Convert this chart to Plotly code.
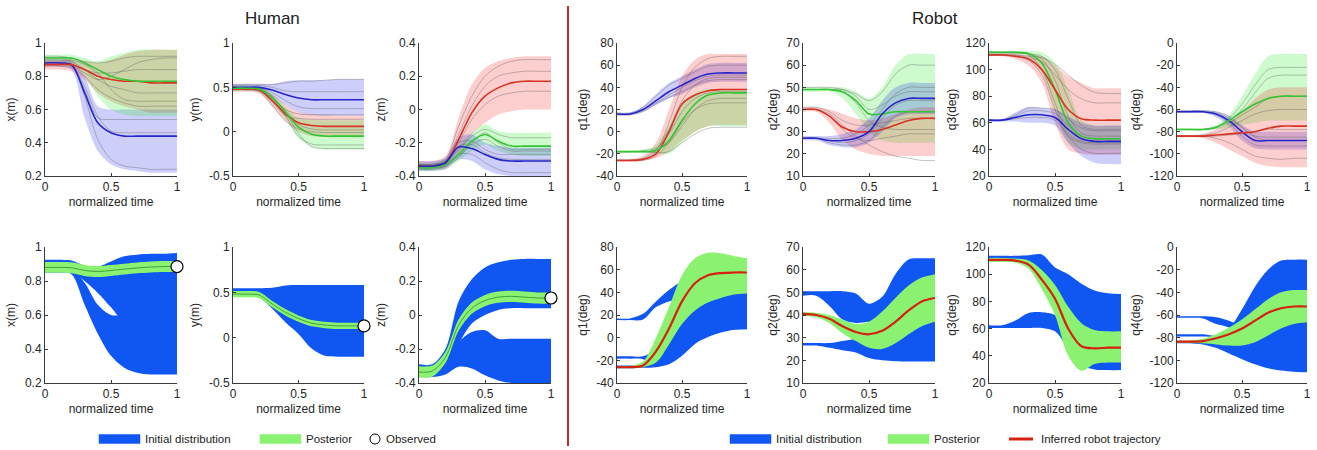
import plotly.graph_objects as go

W, H = 1317, 450
T = [0, 0.1, 0.2, 0.3, 0.4, 0.5, 0.6, 0.7, 0.8, 0.9, 1.0]

# ---------------- TOP ROW: clusters (mean, upper, lower, samples) ----------------
# Human x
hx_b_mean = [.88, .88, .87, .70, .52, .46, .44, .44, .44, .44, .44]
hx_b_up = [.90, .90, .90, .80, .62, .60, .60, .60, .60, .60, .60]
hx_b_lo = [.86, .86, .84, .55, .35, .27, .24, .23, .22, .22, .22]
hx_b_s1 = [.88, .88, .87, .72, .55, .54, .54, .54, .54, .54, .54]
hx_b_s2 = [.89, .89, .88, .68, .42, .30, .26, .25, .24, .24, .24]
hx_b_s3 = [.87, .87, .86, .74, .56, .47, .46, .46, .46, .46, .46]
hx_r_mean = [.87, .87, .87, .84, .80, .78, .77, .77, .76, .76, .76]
hx_r_up = [.90, .90, .90, .89, .88, .90, .93, .95, .96, .96, .96]
hx_r_lo = [.84, .84, .83, .78, .70, .65, .62, .60, .58, .58, .58]
hx_r_s1 = [.87, .87, .86, .82, .78, .80, .84, .88, .90, .91, .91]
hx_r_s2 = [.86, .86, .85, .80, .72, .67, .64, .62, .62, .62, .62]
hx_r_s3 = [.88, .88, .87, .84, .82, .82, .83, .84, .84, .84, .84]
hx_g_mean = [.91, .91, .91, .88, .84, .80, .78, .77, .77, .77, .77]
hx_g_up = [.93, .93, .93, .91, .89, .92, .94, .96, .96, .96, .96]
hx_g_lo = [.89, .89, .88, .80, .68, .60, .57, .56, .56, .56, .56]
hx_g_s1 = [.91, .91, .90, .87, .82, .72, .66, .65, .65, .65, .65]
hx_g_s2 = [.92, .92, .91, .89, .88, .89, .91, .92, .92, .92, .92]
hx_g_s3 = [.90, .90, .89, .84, .78, .74, .72, .70, .70, .70, .70]

# Human y
hy_b_mean = [.50, .50, .50, .47, .42, .38, .36, .36, .36, .36, .36]
hy_b_up = [.54, .54, .54, .54, .57, .58, .58, .58, .59, .59, .59]
hy_b_lo = [.47, .47, .46, .40, .30, .22, .19, .18, .18, .18, .18]
hy_b_s1 = [.52, .52, .52, .50, .46, .45, .45, .45, .45, .45, .45]
hy_b_s2 = [.50, .50, .49, .44, .35, .28, .26, .26, .26, .26, .26]
hy_b_s3 = [.53, .53, .53, .53, .55, .57, .57, .58, .59, .59, .59]
hy_r_mean = [.48, .48, .47, .35, .20, .10, .07, .06, .06, .06, .06]
hy_r_up = [.50, .50, .49, .42, .30, .22, .20, .19, .18, .18, .18]
hy_r_lo = [.45, .45, .43, .28, .12, .00, -.05, -.06, -.06, -.06, -.06]
hy_r_s1 = [.48, .48, .46, .33, .18, .15, .14, .14, .14, .14, .14]
hy_r_s2 = [.47, .47, .45, .30, .12, .03, .00, -.01, -.01, -.01, -.01]
hy_r_s3 = [.49, .49, .48, .38, .25, .20, .19, .19, .19, .19, .19]
hy_g_mean = [.49, .49, .48, .38, .22, .05, -.03, -.05, -.05, -.05, -.05]
hy_g_up = [.51, .51, .50, .42, .28, .15, .13, .13, .13, .13, .13]
hy_g_lo = [.46, .46, .45, .34, .15, -.08, -.17, -.20, -.20, -.20, -.20]
hy_g_s1 = [.49, .49, .48, .36, .18, -.05, -.14, -.15, -.15, -.15, -.15]
hy_g_s2 = [.48, .48, .47, .38, .24, .08, .03, .02, .02, .02, .02]
hy_g_s3 = [.50, .50, .49, .40, .22, -.02, -.17, -.19, -.19, -.19, -.19]

# Human z
hz_r_mean = [-.34, -.34, -.32, -.18, -.02, .08, .13, .16, .17, .17, .17]
hz_r_up = [-.31, -.31, -.28, -.05, .15, .25, .29, .31, .32, .32, .32]
hz_r_lo = [-.36, -.36, -.35, -.27, -.15, -.08, -.03, -.01, 0, 0, 0]
hz_r_s1 = [-.33, -.33, -.30, -.10, .08, .20, .26, .29, .30, .30, .30]
hz_r_s2 = [-.34, -.34, -.32, -.20, -.06, .03, .08, .10, .11, .11, .11]
hz_r_s3 = [-.34, -.34, -.31, -.15, .02, .14, .20, .22, .23, .23, .23]
hz_g_mean = [-.35, -.35, -.33, -.27, -.19, -.15, -.19, -.22, -.22, -.22, -.22]
hz_g_up = [-.32, -.32, -.30, -.22, -.14, -.09, -.13, -.14, -.14, -.14, -.14]
hz_g_lo = [-.37, -.37, -.36, -.31, -.25, -.21, -.25, -.27, -.28, -.28, -.28]
hz_g_s1 = [-.34, -.34, -.32, -.24, -.16, -.12, -.15, -.17, -.17, -.17, -.17]
hz_g_s2 = [-.35, -.35, -.33, -.28, -.21, -.18, -.22, -.25, -.25, -.25, -.25]
hz_g_s3 = [-.36, -.36, -.34, -.29, -.20, -.14, -.20, -.24, -.24, -.24, -.24]
hz_b_mean = [-.34, -.34, -.32, -.225, -.235, -.27, -.30, -.31, -.31, -.31, -.31]
hz_b_up = [-.31, -.31, -.29, -.17, -.15, -.20, -.22, -.23, -.23, -.23, -.23]
hz_b_lo = [-.37, -.37, -.36, -.30, -.31, -.36, -.39, -.40, -.40, -.40, -.40]
hz_b_s1 = [-.33, -.33, -.31, -.20, -.19, -.24, -.27, -.27, -.27, -.27, -.27]
hz_b_s2 = [-.35, -.35, -.34, -.27, -.27, -.32, -.36, -.38, -.38, -.38, -.38]
hz_b_s3 = [-.34, -.34, -.32, -.22, -.21, -.26, -.29, -.30, -.30, -.30, -.30]

# Robot q1
q1_b_mean = [16, 16, 20, 28, 36, 42, 48, 52, 53, 53, 53]
q1_b_up = [17, 17, 23, 34, 44, 50, 56, 61, 62, 62, 62]
q1_b_lo = [15, 15, 18, 24, 30, 34, 40, 44, 45, 45, 45]
q1_b_s1 = [16, 16, 19, 26, 33, 40, 46, 50, 51, 51, 51]
q1_b_s2 = [17, 17, 22, 32, 42, 48, 54, 59, 60, 60, 60]
q1_b_s3 = [15, 15, 18, 25, 31, 36, 42, 46, 47, 47, 47]
q1_r_mean = [-26, -26, -25, -20, 0, 25, 33, 37, 38, 38, 38]
q1_r_up = [-25, -25, -22, -10, 20, 50, 65, 70, 70, 70, 70]
q1_r_lo = [-27, -27, -26, -24, -18, -8, 0, 5, 6, 6, 6]
q1_r_s1 = [-26, -26, -25, -18, 8, 40, 58, 66, 68, 68, 68]
q1_r_s2 = [-26, -26, -26, -22, -10, 8, 20, 25, 26, 26, 26]
q1_r_s3 = [-25, -25, -24, -16, 2, 28, 42, 48, 49, 49, 49]
q1_g_mean = [-18, -18, -18, -17, -8, 10, 25, 33, 35, 35, 35]
q1_g_up = [-17, -17, -16, -12, 5, 25, 35, 38, 38, 38, 38]
q1_g_lo = [-19, -19, -19, -20, -20, -10, 0, 5, 5, 5, 5]
q1_g_s1 = [-18, -18, -18, -17, -10, 5, 20, 28, 30, 30, 30]
q1_g_s2 = [-18, -18, -18, -19, -18, -10, -2, 3, 4, 4, 4]
q1_g_s3 = [-18, -18, -17, -15, -2, 18, 30, 35, 36, 36, 36]

# Robot q2
q2_g_mean = [49, 49, 49, 48, 44, 38, 38, 39, 39, 39, 39]
q2_g_up = [50, 50, 50, 50, 48, 45, 50, 60, 65, 65, 65]
q2_g_lo = [48, 48, 48, 45, 38, 30, 26, 25, 25, 25, 25]
q2_g_s1 = [49, 49, 49, 49, 47, 44, 48, 56, 60, 60, 60]
q2_g_s2 = [49, 49, 49, 48, 43, 35, 32, 31, 31, 31, 31]
q2_g_s3 = [50, 50, 50, 49, 46, 40, 42, 46, 48, 48, 48]
q2_r_mean = [40, 40, 37, 32, 30, 30, 31, 33, 35, 36, 36]
q2_r_up = [41, 41, 40, 38, 36, 35, 36, 38, 40, 41, 41]
q2_r_lo = [39, 39, 34, 26, 22, 20, 19, 19, 19, 19, 19]
q2_r_s1 = [40, 40, 38, 33, 28, 24, 21, 19, 18, 17, 17]
q2_r_s2 = [40, 40, 37, 31, 27, 26, 27, 28, 29, 29, 29]
q2_r_s3 = [41, 41, 39, 35, 33, 33, 34, 35, 36, 36, 36]
q2_b_mean = [27, 27, 26, 26, 27, 30, 38, 43, 45, 45, 45]
q2_b_up = [28, 28, 28, 29, 31, 36, 44, 50, 52, 52, 52]
q2_b_lo = [26, 26, 24, 23, 23, 25, 30, 36, 38, 38, 38]
q2_b_s1 = [27, 27, 26, 25, 26, 29, 36, 42, 44, 44, 44]
q2_b_s2 = [27, 27, 27, 27, 29, 33, 40, 47, 50, 50, 50]
q2_b_s3 = [27, 27, 25, 24, 24, 26, 32, 37, 39, 39, 39]

# Robot q3
q3_g_mean = [113, 113, 113, 112, 105, 85, 60, 50, 48, 48, 48]
q3_g_up = [114, 114, 114, 114, 113, 105, 85, 62, 58, 58, 58]
q3_g_lo = [112, 112, 112, 110, 98, 70, 45, 40, 40, 40, 40]
q3_g_s1 = [113, 113, 113, 112, 108, 92, 65, 52, 50, 50, 50]
q3_g_s2 = [113, 113, 113, 111, 100, 75, 52, 46, 45, 45, 45]
q3_g_s3 = [112, 112, 112, 112, 110, 100, 78, 58, 55, 55, 55]
q3_r_mean = [111, 111, 110, 108, 100, 85, 70, 63, 62, 62, 62]
q3_r_up = [112, 112, 112, 111, 110, 103, 95, 90, 86, 86, 86]
q3_r_lo = [110, 110, 108, 103, 90, 60, 40, 37, 36, 36, 36]
q3_r_s1 = [111, 111, 111, 110, 109, 104, 96, 88, 83, 82, 82]
q3_r_s2 = [111, 111, 110, 107, 96, 70, 50, 45, 44, 44, 44]
q3_r_s3 = [111, 111, 111, 109, 106, 96, 85, 78, 75, 75, 75]
q3_b_mean = [62, 62, 64, 66, 66, 64, 55, 48, 46, 46, 46]
q3_b_up = [63, 63, 68, 72, 71, 70, 65, 60, 58, 58, 58]
q3_b_lo = [61, 61, 61, 60, 60, 58, 45, 35, 30, 29, 29]
q3_b_s1 = [62, 62, 65, 69, 69, 67, 58, 50, 48, 48, 48]
q3_b_s2 = [62, 62, 63, 64, 64, 62, 50, 40, 37, 37, 37]
q3_b_s3 = [62, 62, 66, 71, 71, 70, 63, 56, 54, 54, 54]

# Robot q4
q4_b_mean = [-62, -62, -62, -64, -70, -80, -88, -88, -88, -88, -88]
q4_b_up = [-61, -61, -61, -62, -66, -74, -80, -80, -80, -80, -80]
q4_b_lo = [-63, -63, -63, -67, -75, -88, -95, -96, -96, -96, -96]
q4_b_s1 = [-62, -62, -62, -63, -68, -76, -84, -85, -85, -85, -85]
q4_b_s2 = [-62, -62, -62, -65, -72, -84, -92, -93, -93, -93, -93]
q4_b_s3 = [-61, -61, -61, -62, -66, -76, -85, -88, -88, -88, -88]
q4_g_mean = [-78, -78, -78, -76, -70, -62, -55, -50, -48, -48, -48]
q4_g_up = [-77, -77, -77, -74, -65, -48, -28, -12, -10, -10, -10]
q4_g_lo = [-79, -79, -79, -78, -76, -74, -72, -70, -70, -70, -70]
q4_g_s1 = [-78, -78, -78, -76, -68, -55, -38, -24, -22, -22, -22]
q4_g_s2 = [-78, -78, -78, -77, -72, -65, -58, -50, -48, -48, -48]
q4_g_s3 = [-78, -78, -78, -76, -70, -60, -45, -32, -29, -29, -29]
q4_r_mean = [-84, -84, -84, -83, -82, -81, -80, -77, -75, -75, -75]
q4_r_up = [-83, -83, -82, -78, -72, -62, -50, -42, -40, -40, -40]
q4_r_lo = [-85, -85, -86, -90, -96, -102, -108, -111, -112, -112, -112]
q4_r_s1 = [-84, -84, -84, -86, -90, -96, -102, -104, -105, -104, -104]
q4_r_s2 = [-84, -84, -83, -81, -76, -70, -64, -61, -60, -60, -60]
q4_r_s3 = [-84, -84, -84, -84, -83, -82, -80, -78, -78, -78, -78]

# ---------------- BOTTOM ROW: initial distribution regions + posterior ----------------
bhx_init_a_up = [.925, .925, .92, .89, .885, .915, .945, .955, .96, .96, .965]
bhx_init_a_lo = [.85, .85, .85, .80, .73, .645, .56, .56, .56, .56, .56]
bhx_init_b_up = [.88, .88, .87, .79, .66, .60, .60, .60, .60, .60, .60]
bhx_init_b_lo = [.85, .85, .84, .66, .49, .36, .29, .26, .25, .25, .25]
bhx_post_mean = [.88, .88, .878, .862, .856, .862, .870, .877, .882, .885, .885]
bhx_post_up = [.912, .912, .910, .894, .888, .894, .902, .909, .914, .917, .917]
bhx_post_lo = [.848, .848, .846, .830, .824, .830, .838, .845, .850, .853, .853]

bhy_init_a_up = [.545, .545, .545, .55, .575, .58, .58, .58, .58, .58, .58]
bhy_init_a_lo = [.45, .45, .44, .32, .17, .04, -.12, -.20, -.21, -.21, -.21]
bhy_post_mean = [.48, .48, .47, .37, .28, .21, .16, .14, .13, .13, .13]
bhy_post_up = [.515, .515, .505, .405, .315, .245, .195, .175, .165, .165, .165]
bhy_post_lo = [.445, .445, .435, .335, .245, .175, .125, .105, .095, .095, .095]

bhz_init_a_up = [-.29, -.29, -.20, .08, .21, .28, .31, .325, .33, .33, .33]
bhz_init_a_lo = [-.33, -.33, -.30, -.17, -.05, 0, .03, .04, .04, .04, .04]
bhz_init_b_up = [-.30, -.30, -.28, -.16, -.10, -.09, -.14, -.14, -.14, -.14, -.14]
bhz_init_b_lo = [-.365, -.365, -.35, -.305, -.315, -.355, -.385, -.40, -.40, -.40, -.40]
bhz_post_mean = [-.335, -.33, -.25, -.06, .04, .085, .105, .11, .105, .10, .10]
bhz_post_up = [-.302, -.297, -.217, -.027, .073, .118, .138, .143, .138, .133, .133]
bhz_post_lo = [-.368, -.363, -.283, -.093, .007, .052, .072, .077, .072, .067, .067]

obs_t = [1.0]
obs_hx = [0.885]
obs_hy = [0.13]
obs_hz = [0.10]

bq1_init_a_up = [17, 17, 21, 32, 42, 50, 55, 60, 62, 62, 62]
bq1_init_a_lo = [15.5, 15.5, 16, 27, 32, 35, 40, 44, 45, 45, 45]
bq1_init_b_up = [-16.5, -16.5, -16.5, -10, 5, 25, 38, 43, 44, 44, 44]
bq1_init_b_lo = [-18.5, -18.5, -19, -24, -23, -15.5, -5, 1, 5, 7.3, 7.5]
bq1_init_c_up = [-24.5, -24.5, -24, -18, -10, 5, 20, 35, 40, 42, 43]
bq1_init_c_lo = [-27, -27, -26.5, -26, -23.5, -16, -5.5, 0.5, 4.5, 7, 7.5]
bq1_post_mean = [-26, -26, -24.5, -12, 8, 32, 48, 55, 57, 57.5, 57.5]
bq1_post_up = [-25, -25, -21, 0, 27, 55, 70, 75, 74.5, 72, 70]
bq1_post_lo = [-27, -27, -26, -22, -6, 12, 24, 31, 35, 38, 39]

bq2_init_a_up = [50.5, 50.5, 50.5, 50.5, 49.5, 45, 48, 58, 64.5, 65, 65]
bq2_init_a_lo = [48.5, 48.5, 44, 38, 36.5, 37, 38, 40, 42, 42, 42]
bq2_init_b_up = [27.6, 27.6, 27.6, 28.5, 29.5, 31, 34, 36, 37, 37, 37]
bq2_init_b_lo = [26.5, 26.5, 25.5, 24.5, 23.5, 21, 20, 19.6, 19.5, 19.5, 19.5]
bq2_post_mean = [40.5, 40, 38.3, 35, 32.5, 31.5, 33, 37, 42, 46, 47.5]
bq2_post_up = [41.3, 41, 40, 38, 36, 37, 41.5, 47.5, 53, 56.5, 58]
bq2_post_lo = [39.7, 39, 36.5, 32, 28.5, 25.5, 25, 27.5, 31.5, 35, 37]

bq3_init_a_up = [113.5, 113.5, 113.5, 114, 114.5, 105, 100, 93, 88, 86, 85.5]
bq3_init_a_lo = [110, 110, 109, 106, 98, 80, 50, 38, 37, 36, 36]
bq3_init_b_up = [62.5, 62.5, 66, 71.5, 72, 70, 62, 52, 47, 46, 46]
bq3_init_b_lo = [60.5, 60.5, 60.5, 60.5, 60.5, 58, 45, 33, 30, 29.5, 29.5]
bq3_post_mean = [110.5, 110.5, 110, 107, 96, 82, 60, 47, 45.5, 46, 46]
bq3_post_up = [112, 112, 111.5, 110, 103, 92, 76, 64, 59, 58, 58]
bq3_post_lo = [109, 109, 108.5, 104, 89, 70, 40, 29, 34, 35, 35]

bq4_init_a_up = [-61.2, -61.2, -61.2, -62, -65, -70, -78, -85, -88, -88, -88]
bq4_init_a_lo = [-62.5, -62.5, -63, -68, -71, -78, -88, -95, -96, -96, -96]
bq4_init_b_up = [-77, -77, -77, -78, -72, -55, -35, -20, -12, -11.2, -11.2]
bq4_init_b_lo = [-79, -79, -79, -80, -85, -88, -90, -92, -92, -92, -92]
bq4_init_c_up = [-83, -83, -82, -80, -76, -70, -60, -50, -45, -42, -42]
bq4_init_c_lo = [-85, -85, -86, -89, -94, -99, -103.5, -107, -109, -110, -110.5]
bq4_post_mean = [-83.5, -83.5, -83, -80.5, -77, -72, -65, -58, -54, -52.5, -52.5]
bq4_post_up = [-82.5, -82.5, -81, -77, -71, -64, -55, -46, -40, -38, -38]
bq4_post_lo = [-84.5, -84.5, -85, -86, -87, -87, -84, -78, -72, -68, -66.5]

# axis labels / ticks
y_titles = ["x(m)", "y(m)", "z(m)", "q1(deg)", "q2(deg)", "q3(deg)", "q4(deg)"]
y_ranges = [[0.2, 1], [-0.5, 1], [-0.4, 0.4], [-40, 80], [10, 70], [20, 120], [-120, 0]]
y_tickvals = [[0.2, 0.4, 0.6, 0.8, 1], [-0.5, 0, 0.5, 1], [-0.4, -0.2, 0, 0.2, 0.4],
              [-40, -20, 0, 20, 40, 60, 80], [10, 20, 30, 40, 50, 60, 70],
              [20, 40, 60, 80, 100, 120], [-120, -100, -80, -60, -40, -20, 0]]
y_ticktext = [["0.2", "0.4", "0.6", "0.8", "1"], ["-0.5", "0", "0.5", "1"], ["-0.4", "-0.2", "0", "0.2", "0.4"],
              ["-40", "-20", "0", "20", "40", "60", "80"], ["10", "20", "30", "40", "50", "60", "70"],
              ["20", "40", "60", "80", "100", "120"], ["-120", "-100", "-80", "-60", "-40", "-20", "0"]]
x_tickvals = [0, 0.5, 1]
x_ticktext = ["0", "0.5", "1"]

# ---------------- styling ----------------
FONT = "Liberation Sans, Arial, sans-serif"
BAND = {"b": "rgba(30,30,235,0.22)", "r": "rgba(240,30,30,0.22)", "g": "rgba(30,235,30,0.22)"}
MEANC = {"b": "#2424c8", "r": "#d83222", "g": "#34c434"}
SAMPLE = "rgba(85,85,85,0.45)"
INIT_BLUE = "rgb(16,86,242)"
POST_GREEN = "rgb(138,242,112)"
HUMAN_LINE = "rgb(64,160,64)"
ROBOT_LINE = "rgb(214,32,16)"

col_px = [(45, 177), (233, 364), (419, 551), (617, 747), (803, 935), (989, 1121), (1177, 1307)]
top_py = (43, 176)
bot_py = (247, 383)

fig = go.Figure()


def names(i):
    return ("x" if i == 1 else f"x{i}"), ("y" if i == 1 else f"y{i}")


def spl(w=0, color="rgba(0,0,0,0)"):
    return dict(width=w, color=color, shape="spline", smoothing=0.9)


def add_band(i, lo, up, fill):
    xa, ya = names(i)
    fig.add_trace(go.Scatter(x=T, y=lo, xaxis=xa, yaxis=ya, mode="lines", line=spl(0),
                             hoverinfo="skip", showlegend=False))
    fig.add_trace(go.Scatter(x=T, y=up, xaxis=xa, yaxis=ya, mode="lines", line=spl(0),
                             fill="tonexty", fillcolor=fill, hoverinfo="skip", showlegend=False))


def add_line(i, y, color, w):
    xa, ya = names(i)
    fig.add_trace(go.Scatter(x=T, y=y, xaxis=xa, yaxis=ya, mode="lines", line=spl(w, color),
                             hoverinfo="skip", showlegend=False))


top_panels = [
    [("b", hx_b_lo, hx_b_up, hx_b_mean, [hx_b_s1, hx_b_s2, hx_b_s3]),
     ("r", hx_r_lo, hx_r_up, hx_r_mean, [hx_r_s1, hx_r_s2, hx_r_s3]),
     ("g", hx_g_lo, hx_g_up, hx_g_mean, [hx_g_s1, hx_g_s2, hx_g_s3])],
    [("b", hy_b_lo, hy_b_up, hy_b_mean, [hy_b_s1, hy_b_s2, hy_b_s3]),
     ("r", hy_r_lo, hy_r_up, hy_r_mean, [hy_r_s1, hy_r_s2, hy_r_s3]),
     ("g", hy_g_lo, hy_g_up, hy_g_mean, [hy_g_s1, hy_g_s2, hy_g_s3])],
    [("r", hz_r_lo, hz_r_up, hz_r_mean, [hz_r_s1, hz_r_s2, hz_r_s3]),
     ("g", hz_g_lo, hz_g_up, hz_g_mean, [hz_g_s1, hz_g_s2, hz_g_s3]),
     ("b", hz_b_lo, hz_b_up, hz_b_mean, [hz_b_s1, hz_b_s2, hz_b_s3])],
    [("b", q1_b_lo, q1_b_up, q1_b_mean, [q1_b_s1, q1_b_s2, q1_b_s3]),
     ("r", q1_r_lo, q1_r_up, q1_r_mean, [q1_r_s1, q1_r_s2, q1_r_s3]),
     ("g", q1_g_lo, q1_g_up, q1_g_mean, [q1_g_s1, q1_g_s2, q1_g_s3])],
    [("g", q2_g_lo, q2_g_up, q2_g_mean, [q2_g_s1, q2_g_s2, q2_g_s3]),
     ("r", q2_r_lo, q2_r_up, q2_r_mean, [q2_r_s1, q2_r_s2, q2_r_s3]),
     ("b", q2_b_lo, q2_b_up, q2_b_mean, [q2_b_s1, q2_b_s2, q2_b_s3])],
    [("g", q3_g_lo, q3_g_up, q3_g_mean, [q3_g_s1, q3_g_s2, q3_g_s3]),
     ("r", q3_r_lo, q3_r_up, q3_r_mean, [q3_r_s1, q3_r_s2, q3_r_s3]),
     ("b", q3_b_lo, q3_b_up, q3_b_mean, [q3_b_s1, q3_b_s2, q3_b_s3])],
    [("b", q4_b_lo, q4_b_up, q4_b_mean, [q4_b_s1, q4_b_s2, q4_b_s3]),
     ("g", q4_g_lo, q4_g_up, q4_g_mean, [q4_g_s1, q4_g_s2, q4_g_s3]),
     ("r", q4_r_lo, q4_r_up, q4_r_mean, [q4_r_s1, q4_r_s2, q4_r_s3])],
]

for k, clusters in enumerate(top_panels):
    i = k + 1
    for c, lo, up, mean, samples in clusters:
        add_band(i, lo, up, BAND[c])
    for c, lo, up, mean, samples in clusters:
        for s in samples:
            add_line(i, s, SAMPLE, 0.8)
    for c, lo, up, mean, samples in clusters:
        add_line(i, mean, MEANC[c], 1.6)

bottom_panels = [
    ([(bhx_init_a_lo, bhx_init_a_up), (bhx_init_b_lo, bhx_init_b_up)], bhx_post_lo, bhx_post_up, bhx_post_mean, HUMAN_LINE, 1.0, obs_hx),
    ([(bhy_init_a_lo, bhy_init_a_up)], bhy_post_lo, bhy_post_up, bhy_post_mean, HUMAN_LINE, 1.0, obs_hy),
    ([(bhz_init_a_lo, bhz_init_a_up), (bhz_init_b_lo, bhz_init_b_up)], bhz_post_lo, bhz_post_up, bhz_post_mean, HUMAN_LINE, 1.0, obs_hz),
    ([(bq1_init_a_lo, bq1_init_a_up), (bq1_init_b_lo, bq1_init_b_up), (bq1_init_c_lo, bq1_init_c_up)], bq1_post_lo, bq1_post_up, bq1_post_mean, ROBOT_LINE, 2.2, None),
    ([(bq2_init_a_lo, bq2_init_a_up), (bq2_init_b_lo, bq2_init_b_up)], bq2_post_lo, bq2_post_up, bq2_post_mean, ROBOT_LINE, 2.2, None),
    ([(bq3_init_a_lo, bq3_init_a_up), (bq3_init_b_lo, bq3_init_b_up)], bq3_post_lo, bq3_post_up, bq3_post_mean, ROBOT_LINE, 2.2, None),
    ([(bq4_init_a_lo, bq4_init_a_up), (bq4_init_b_lo, bq4_init_b_up), (bq4_init_c_lo, bq4_init_c_up)], bq4_post_lo, bq4_post_up, bq4_post_mean, ROBOT_LINE, 2.2, None),
]

for k, (regions, plo, pup, pmean, lc, lw, obs) in enumerate(bottom_panels):
    i = k + 8
    for lo, up in regions:
        add_band(i, lo, up, INIT_BLUE)
    add_band(i, plo, pup, POST_GREEN)
    add_line(i, pmean, lc, lw)
    if obs is not None:
        xa, ya = names(i)
        fig.add_trace(go.Scatter(x=obs_t, y=obs, xaxis=xa, yaxis=ya, mode="markers",
                                 marker=dict(size=12, color="white", line=dict(color="black", width=1.2)),
                                 cliponaxis=False, hoverinfo="skip", showlegend=False))

# ---------------- axes ----------------
layout = dict(
    width=W, height=H, margin=dict(l=0, r=0, t=0, b=0, autoexpand=False),
    paper_bgcolor="white", plot_bgcolor="white",
    font=dict(family=FONT, size=12, color="#262626"),
    showlegend=False,
)
axis_common = dict(showline=True, linecolor="#3a3a3a", linewidth=1, ticks="inside", ticklen=3,
                   tickcolor="#3a3a3a", showgrid=False, zeroline=False, fixedrange=True, automargin=False,
                   tickfont=dict(family=FONT, size=12, color="#262626"))
for row, (py0, py1) in enumerate([top_py, bot_py]):
    for c in range(7):
        i = row * 7 + c + 1
        xa, ya = names(i)
        xk = "xaxis" if i == 1 else f"xaxis{i}"
        yk = "yaxis" if i == 1 else f"yaxis{i}"
        px0, px1 = col_px[c]
        layout[xk] = dict(axis_common, domain=[px0 / W, px1 / W], anchor=ya, range=[0, 1],
                          tickvals=x_tickvals, ticktext=x_ticktext,
                          title=dict(text="normalized time", font=dict(family=FONT, size=12, color="#262626"), standoff=4))
        layout[yk] = dict(axis_common, domain=[1 - py1 / H, 1 - py0 / H], anchor=xa, range=y_ranges[c],
                          tickvals=y_tickvals[c], ticktext=y_ticktext[c],
                          title=dict(text=y_titles[c], font=dict(family=FONT, size=12, color="#262626"), standoff=6))

# ---------------- annotations / legend ----------------
def px(x):
    return x / W


def py(y):
    return 1 - y / H


annotations = [
    dict(text="Human", x=px(272), y=py(18), xref="paper", yref="paper", showarrow=False,
         xanchor="center", yanchor="middle", font=dict(family=FONT, size=17, color="#222")),
    dict(text="Robot", x=px(935), y=py(18), xref="paper", yref="paper", showarrow=False,
         xanchor="center", yanchor="middle", font=dict(family=FONT, size=17, color="#222")),
]
shapes = [dict(type="line", xref="paper", yref="paper", x0=px(568), x1=px(568), y0=py(6), y1=py(446),
               line=dict(color="rgb(200,40,40)", width=2))]

LY = 439
def legend_patch(x0, x1, color):
    shapes.append(dict(type="rect", xref="paper", yref="paper", x0=px(x0), x1=px(x1), y0=py(LY + 4.5), y1=py(LY - 4.5),
                       fillcolor=color, line=dict(color=color, width=0.5)))


def legend_text(x, t):
    annotations.append(dict(text=t, x=px(x), y=py(LY), xref="paper", yref="paper", xanchor="left", yanchor="middle",
                            showarrow=False, font=dict(family=FONT, size=11.5, color="#222")))


legend_patch(99, 140, INIT_BLUE)
legend_text(143, "Initial distribution")
legend_patch(260, 301, POST_GREEN)
legend_text(304, "Posterior")
shapes.append(dict(type="circle", xref="paper", yref="paper", x0=px(370), x1=px(380), y0=py(LY + 5), y1=py(LY - 5),
                   fillcolor="white", line=dict(color="black", width=1)))
legend_text(384, "Observed")

legend_patch(730, 771, INIT_BLUE)
legend_text(774, "Initial distribution")
legend_patch(888, 929, POST_GREEN)
legend_text(932, "Posterior")
shapes.append(dict(type="line", xref="paper", yref="paper", x0=px(1009), x1=px(1033), y0=py(LY), y1=py(LY),
                   line=dict(color=ROBOT_LINE, width=3)))
legend_text(1039, "Inferred robot trajectory")

layout["annotations"] = annotations
layout["shapes"] = shapes
fig.update_layout(**layout)

fig.write_html("out.html", config={"displayModeBar": False, "staticPlot": True},
               post_script="document.body.style.margin='0';document.body.style.overflow='hidden';")
